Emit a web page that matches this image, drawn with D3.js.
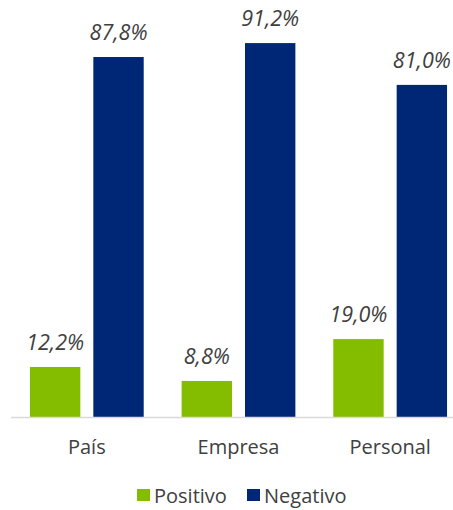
<!DOCTYPE html>
<html>
<head>
<meta charset="utf-8">
<script src="https://cdn.jsdelivr.net/npm/d3@7"></script>
<style>
  html, body { margin: 0; padding: 0; background: #fff; }
  svg { display: block; font-family: "Open Sans", "Noto Sans", sans-serif; }
</style>
</head>
<body>
<svg id="chart" width="453" height="510"></svg>
<script>
const categories = ["País", "Empresa", "Personal"];
const seriesNames = ["Positivo", "Negativo"];
const positivo = [12.2, 8.8, 19.0];
const negativo = [87.8, 91.2, 81.0];
const colors = ["#84bd00", "#002776"];

const svg = d3.select("#chart");
const W = 453, H = 510;
const baseY = 417;

const x0 = d3.scaleBand().domain(categories).range([11, 466]).paddingInner(0.25).paddingOuter(0.125);
const x1 = d3.scaleBand().domain(seriesNames).range([0, x0.bandwidth()]).paddingInner(0.205);
const y = d3.scaleLinear().domain([0, 100]).range([baseY, 7]);

const fmt = v => d3.format(".1f")(v).replace(".", ",") + "%";

const rows = categories.map((c, i) => ({ cat: c, vals: [positivo[i], negativo[i]] }));

const g = svg.append("g");
const groups = g.selectAll("g.grp").data(rows).join("g")
  .attr("transform", d => `translate(${x0(d.cat)},0)`);

groups.selectAll("rect").data(d => d.vals.map((v, j) => ({ v, s: seriesNames[j], j })))
  .join("rect")
  .attr("x", d => x1(d.s))
  .attr("width", x1.bandwidth())
  .attr("y", d => y(d.v))
  .attr("height", d => baseY - y(d.v))
  .attr("fill", d => colors[d.j]);

groups.selectAll("text.lbl").data(d => d.vals.map((v, j) => ({ v, s: seriesNames[j] })))
  .join("text")
  .attr("class", "lbl")
  .attr("x", d => x1(d.s) + x1.bandwidth() / 2)
  .attr("y", d => y(d.v) - 17)
  .attr("text-anchor", "middle")
  .attr("font-style", "italic")
  .attr("font-size", 21.5)
  .attr("fill", "#404040")
  .text(d => fmt(d.v));

// axis
const axis = d3.axisBottom(x0).tickSize(0).tickPadding(0);
const ax = svg.append("g").attr("transform", `translate(0,${baseY})`).call(axis);
ax.select(".domain").remove();
svg.append("line").attr("x1", 11).attr("x2", W).attr("y1", baseY + 0.5).attr("y2", baseY + 0.5)
  .attr("stroke", "#d9d9d9").attr("stroke-width", 1.5);
ax.selectAll("text")
  .attr("dy", null)
  .attr("y", 36.5)
  .attr("font-size", 20)
  .attr("font-family", "\"Open Sans\", \"Noto Sans\", sans-serif")
  .attr("fill", "#404040");

// legend
const legendX = [137, 247];
const leg = svg.append("g");
seriesNames.forEach((s, i) => {
  leg.append("rect").attr("x", legendX[i]).attr("y", 489).attr("width", 13).attr("height", 12).attr("fill", colors[i]);
  leg.append("text").attr("x", legendX[i] + 17).attr("y", 503)
    .attr("font-size", 20).attr("fill", "#404040").text(s);
});
</script>
</body>
</html>
